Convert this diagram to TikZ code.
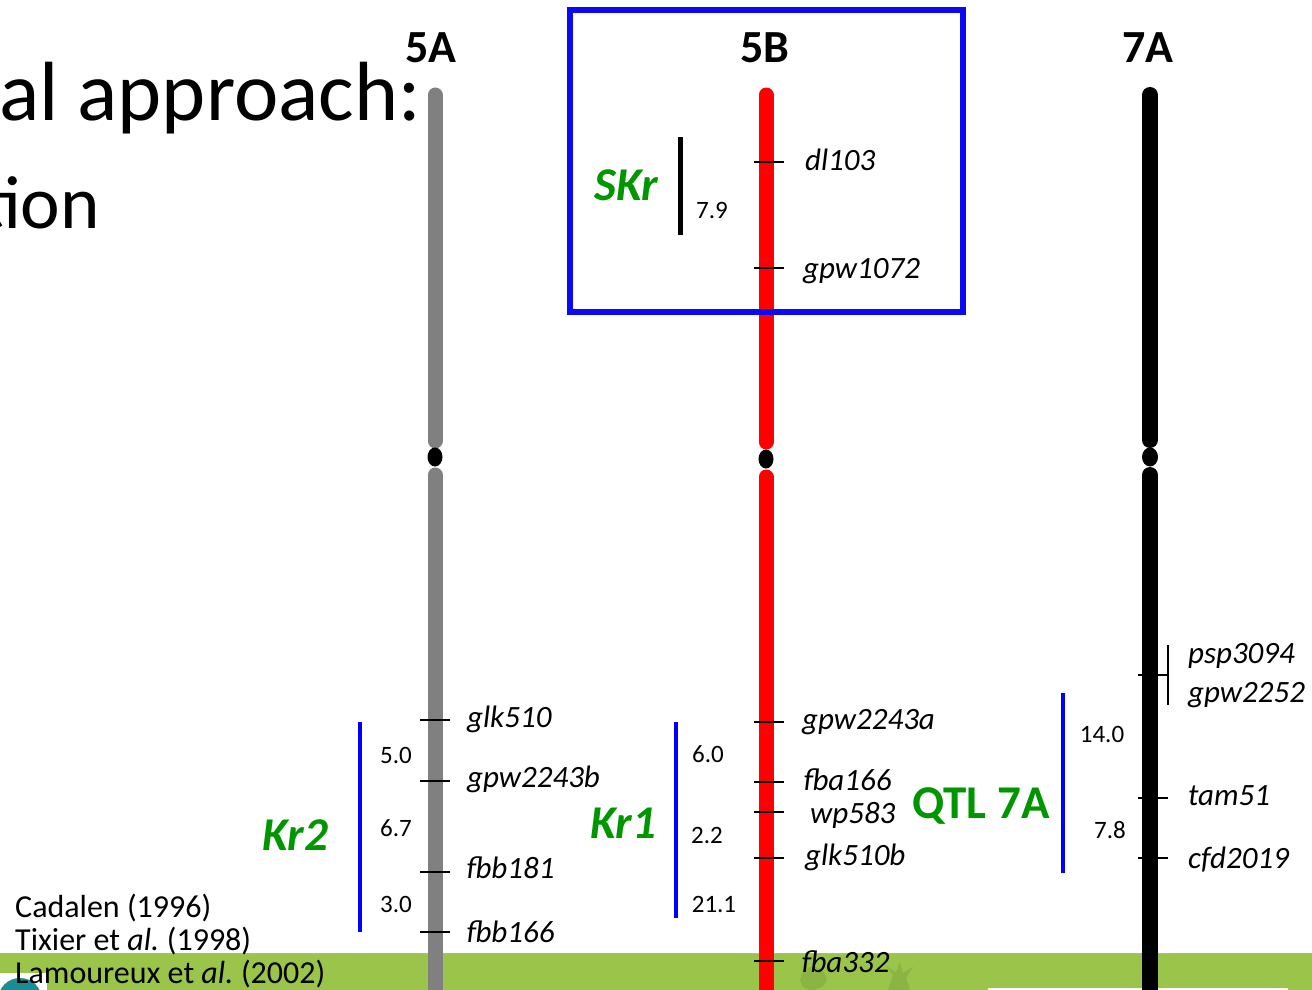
\documentclass[tikz,border=0pt]{standalone}
\usepackage{fontspec}
\setmainfont{Carlito}
\usetikzlibrary{shapes.geometric}
\definecolor{qgreen}{RGB}{0,150,0}
\definecolor{bandgreen}{RGB}{155,196,74}
\definecolor{darkband}{RGB}{125,165,62}
\definecolor{tealc}{RGB}{26,140,150}
\definecolor{boxblue}{RGB}{10,10,245}
\definecolor{chromgray}{RGB}{128,128,128}
\begin{document}
\begin{tikzpicture}[x=1pt,y=-1pt,
  marker/.style={anchor=base west, inner sep=0pt, font=\fontsize{31}{31}\selectfont\itshape},
  dist/.style={anchor=base, inner sep=0pt, font=\fontsize{25}{25}\selectfont},
  chrtitle/.style={anchor=base, inner sep=0pt, font=\fontsize{46}{46}\selectfont\bfseries},
  locus/.style={anchor=base west, inner sep=0pt, text=qgreen, font=\fontsize{47}{47}\selectfont\bfseries\itshape},
  cite/.style={anchor=base west, inner sep=0pt, font=\fontsize{32}{32}\selectfont},
  tickline/.style={line width=2.8pt},
  bluebar/.style={draw=blue, line width=4pt},
  chrom/.style={line width=15pt, line cap=round},
  centro/.style={fill=black, ellipse, minimum width=15pt, minimum height=19pt, inner sep=0pt}
]
\useasboundingbox (0,0) rectangle (1312,990);
\clip (0,0) rectangle (1312,990);

% background band
\fill[bandgreen] (0,953) rectangle (1312,990);
\draw[gray!60, line width=1pt] (0,953) -- (1312,953);
\fill[darkband, opacity=0.5] (803,972) .. controls (812,962) and (822,968) .. (826,976) .. controls (830,985) and (818,990) .. (810,990) .. controls (800,988) and (798,980) .. (803,972);
\fill[darkband, opacity=0.5] (888,990) -- (893,975) -- (886,966) -- (896,972) -- (900,962) -- (903,973) -- (913,967) -- (906,978) -- (910,990) -- cycle;
\fill[white] (0,973) rectangle (47,990);
\fill[tealc] (20,1000) circle[radius=22];
\fill[white] (988,988) rectangle (1288,992);

% slide title fragments
\node[anchor=base east, inner sep=0pt, font=\fontsize{84}{84}\selectfont] (title1) at (421,120) {al approach:};
\node[anchor=base east, inner sep=0pt, font=\fontsize{75}{75}\selectfont] (title2) at (100,228) {tion};

% chromosomes
\draw[chrom, chromgray] (435,95) -- (435,441);
\draw[chrom, chromgray] (435,475) -- (435,1010);
\node[centro] (c5A) at (435,457) {};
\draw[chrom, red] (766,95) -- (766,442);
\draw[chrom, red] (766,477) -- (766,1010);
\node[centro] (c5B) at (766,459) {};
\draw[chrom, black, line width=16pt] (1150,95) -- (1150,440);
\draw[chrom, black, line width=16pt] (1150,475) -- (1150,1010);
\node[centro, minimum width=16pt] (c7A) at (1150,457) {};

% chromosome titles
\node[chrtitle] (t5A) at (431,63) {5A};
\node[chrtitle] (t5B) at (765,63) {5B};
\node[chrtitle] (t7A) at (1148,63) {7A};

% blue box
\draw[boxblue, line width=6pt] (570,10) rectangle (963,312);

% 5B upper
\draw[tickline] (754,162) -- (784,162);
\node[marker] (dl103) at (805,170) {dl103};
\draw[tickline] (754,268) -- (784,268);
\node[marker] (gpw1072) at (803,278) {gpw1072};
\draw[line width=5pt] (680,137) -- (680,235);
\node[dist] (d79) at (712,218) {7.9};
\node[locus] (SKr) at (594,200) {SKr};

% 5A lower
\draw[tickline] (420,720) -- (450,720);
\node[marker] (glk510) at (467,727) {glk510};
\draw[tickline] (420,781) -- (450,781);
\node[marker] (gpw2243b) at (467,787) {gpw2243b};
\draw[tickline] (420,872) -- (450,872);
\node[marker] (fbb181) at (466,878) {fbb181};
\draw[tickline] (420,932) -- (450,932);
\node[marker] (fbb166) at (466,942) {fbb166};
\draw[bluebar] (360,722) -- (360,932);
\node[dist] (d50) at (396,763) {5.0};
\node[dist] (d67) at (396,836) {6.7};
\node[dist] (d30) at (396,912) {3.0};
\node[locus] (Kr2) at (262,850) {Kr2};

% 5B lower
\draw[tickline] (754,722) -- (784,722);
\node[marker] (gpw2243a) at (802,729) {gpw2243a};
\draw[tickline] (754,782) -- (784,782);
\node[marker] (fba166) at (803,790) {fba166};
\draw[tickline] (754,812) -- (784,812);
\node[marker] (wp583) at (810,823) {wp583};
\draw[tickline] (754,858) -- (784,858);
\node[marker] (glk510b) at (805,865) {glk510b};
\draw[tickline] (754,961) -- (784,961);
\node[marker] (fba332) at (801,972) {fba332};
\draw[bluebar] (676,722) -- (676,918);
\node[dist] (d60) at (708,762) {6.0};
\node[dist] (d22) at (707,843) {2.2};
\node[dist] (d211) at (714,912) {21.1};
\node[locus] (Kr1) at (590,838) {Kr1};

% QTL 7A
\node[locus, font=\fontsize{47}{47}\selectfont\bfseries] (QTL) at (912,818) {QTL 7A};

% 7A lower
\draw[tickline] (1138,675) -- (1168,675);
\draw[line width=1.5pt] (1168,645) -- (1168,705);
\node[marker] (psp3094) at (1188,663) {psp3094};
\node[marker] (gpw2252) at (1188,702) {gpw2252};
\draw[tickline] (1138,798) -- (1168,798);
\node[marker] (tam51) at (1188,805) {tam51};
\draw[tickline] (1138,858) -- (1168,858);
\node[marker] (cfd2019) at (1188,868) {cfd2019};
\draw[bluebar] (1063,693) -- (1063,873);
\node[dist] (d140) at (1102,742) {14.0};
\node[dist] (d78) at (1110,838) {7.8};

% citations
\node[cite] (cit1) at (15,917) {Cadalen (1996)};
\node[cite] (cit2) at (15,950) {Tixier et \textit{al.}\kern-2pt{} (1998)};
\node[cite] (cit3) at (15,983) {Lamoureux et \textit{al.}\kern-2pt{} (2002)};
\end{tikzpicture}
\end{document}
